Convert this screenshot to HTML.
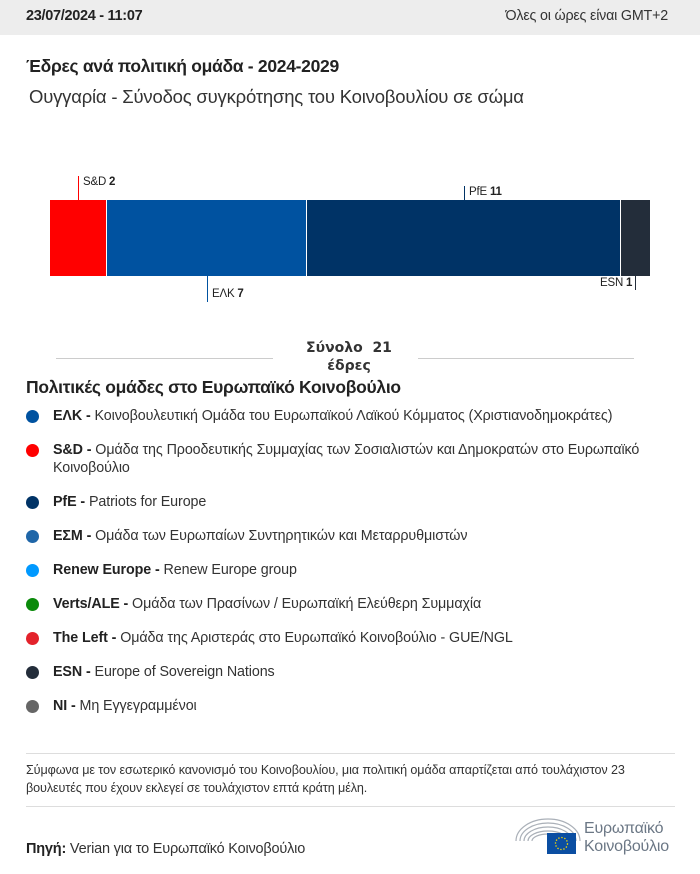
<!DOCTYPE html>
<html><head><meta charset="utf-8"><style>
body{margin:0;width:700px;height:874px;background:#fff;font-family:"Liberation Sans","DejaVu Sans",sans-serif;color:#222;position:relative;overflow:hidden}
.a{position:absolute;white-space:nowrap}
.hdr{position:absolute;left:0;top:0;width:700px;height:35px;background:#ededed}
.dot{position:absolute;left:26px;width:13px;height:13px;border-radius:50%}
.lg{position:absolute;left:53px;font-size:14.3px;letter-spacing:-0.1px;color:#333;line-height:18px}
.lg b{color:#222}
.seg{position:absolute;top:200px;height:76px}
.tk{position:absolute;width:1px}
.lb{position:absolute;font-size:11.5px;letter-spacing:-0.2px;color:#222}
.hr{position:absolute;height:1px;background:#ccc}
</style></head><body>
<div class="hdr"></div>
<div class="a" style="left:26px;top:8px;font-size:14.5px;font-weight:bold;letter-spacing:-0.3px">23/07/2024 - 11:07</div>
<div class="a" style="right:32px;top:8px;font-size:14.3px;letter-spacing:-0.2px;color:#333">Όλες οι ώρες είναι GMT+2</div>
<div class="a" style="left:26px;top:56px;font-size:17.5px;font-weight:bold;letter-spacing:-0.3px">Έδρες ανά πολιτική ομάδα - 2024-2029</div>
<div class="a" style="left:29px;top:86px;font-size:18.5px;letter-spacing:-0.2px;color:#333">Ουγγαρία - Σύνοδος συγκρότησης του Κοινοβουλίου σε σώμα</div>

<div class="seg" style="left:50px;width:56px;background:#f00"></div>
<div class="seg" style="left:107px;width:199px;background:#0052a0"></div>
<div class="seg" style="left:307px;width:313px;background:#003366"></div>
<div class="seg" style="left:621px;width:29px;background:#232d3a"></div>

<div class="tk" style="left:78px;top:176px;height:24px;background:#f00"></div>
<div class="lb" style="left:83px;top:176px">S&amp;D <b>2</b></div>
<div class="tk" style="left:464px;top:186px;height:14px;background:#003366"></div>
<div class="lb" style="left:469px;top:186px">PfE <b>11</b></div>
<div class="tk" style="left:207px;top:276px;height:26px;background:#0052a0"></div>
<div class="lb" style="left:212px;top:288px">ΕΛΚ <b>7</b></div>
<div class="tk" style="left:635px;top:276px;height:14px;background:#232d3a"></div>
<div class="lb" style="left:600px;top:277px">ESN <b>1</b></div>

<div class="hr" style="left:56px;top:358px;width:217px"></div>
<div class="hr" style="left:418px;top:358px;width:216px"></div>
<div class="a" style="left:274px;top:339px;width:150px;text-align:center;font-family:'DejaVu Sans',sans-serif;font-weight:bold;font-size:14px;line-height:18px;color:#333">Σύνολο &nbsp;21<br>έδρες</div>

<div class="a" style="left:26px;top:377px;font-size:17.5px;font-weight:bold;letter-spacing:-0.3px">Πολιτικές ομάδες στο Ευρωπαϊκό Κοινοβούλιο</div>

<div class="dot" style="top:410px;background:#0052a0"></div><div class="lg" style="top:407px"><b>ΕΛΚ -</b> Κοινοβουλευτική Ομάδα του Ευρωπαϊκού Λαϊκού Κόμματος (Χριστιανοδημοκράτες)</div>
<div class="dot" style="top:444px;background:#f00"></div><div class="lg" style="top:441px"><b>S&amp;D -</b> Ομάδα της Προοδευτικής Συμμαχίας των Σοσιαλιστών και Δημοκρατών στο Ευρωπαϊκό<br>Κοινοβούλιο</div>
<div class="dot" style="top:496px;background:#003366"></div><div class="lg" style="top:493px"><b>PfE -</b> Patriots for Europe</div>
<div class="dot" style="top:530px;background:#1f66a8"></div><div class="lg" style="top:527px"><b>ΕΣΜ -</b> Ομάδα των Ευρωπαίων Συντηρητικών και Μεταρρυθμιστών</div>
<div class="dot" style="top:564px;background:#0099ff"></div><div class="lg" style="top:561px"><b>Renew Europe -</b> Renew Europe group</div>
<div class="dot" style="top:598px;background:#0a8a0a"></div><div class="lg" style="top:595px"><b>Verts/ALE -</b> Ομάδα των Πρασίνων / Ευρωπαϊκή Ελεύθερη Συμμαχία</div>
<div class="dot" style="top:632px;background:#e3222b"></div><div class="lg" style="top:629px"><b>The Left -</b> Ομάδα της Αριστεράς στο Ευρωπαϊκό Κοινοβούλιο - GUE/NGL</div>
<div class="dot" style="top:666px;background:#232d3a"></div><div class="lg" style="top:663px"><b>ESN -</b> Europe of Sovereign Nations</div>
<div class="dot" style="top:700px;background:#666"></div><div class="lg" style="top:697px"><b>NI -</b> Μη Εγγεγραμμένοι</div>

<div class="hr" style="left:26px;top:753px;width:649px;background:#ddd"></div>
<div class="a" style="left:26px;top:761px;font-size:12.6px;line-height:18px;letter-spacing:-0.1px;color:#333">Σύμφωνα με τον εσωτερικό κανονισμό του Κοινοβουλίου, μια πολιτική ομάδα απαρτίζεται από τουλάχιστον 23<br>βουλευτές που έχουν εκλεγεί σε τουλάχιστον επτά κράτη μέλη.</div>
<div class="hr" style="left:26px;top:806px;width:649px;background:#ddd"></div>
<div class="a" style="left:26px;top:841px;font-size:14.5px;letter-spacing:-0.2px;color:#333"><b style="color:#222">Πηγή:</b> Verian για το Ευρωπαϊκό Κοινοβούλιο</div>

<svg class="a" style="left:512px;top:815px" width="80" height="40" viewBox="0 0 80 40">
<g fill="none" stroke="#aab0b8" stroke-width="1.2">
<path d="M4 26 A32 22 0 0 1 68 26"/><path d="M8 26 A28 18 0 0 1 64 26"/><path d="M12 26 A24 14 0 0 1 60 26"/><path d="M16 26 A20 10 0 0 1 56 26"/><path d="M20 26 A16 7 0 0 1 52 26"/>
</g>
<rect x="35" y="18" width="29" height="21" fill="#0b4ea2"/>
<circle cx="49.5" cy="28.5" r="6" fill="none" stroke="#ffdd00" stroke-width="1.3" stroke-dasharray="1.3 1.8"/>
</svg>
<div class="a" style="left:584px;top:820px;font-size:16px;line-height:18px;color:#6b7785;letter-spacing:-0.2px">Ευρωπαϊκό<br>Κοινοβούλιο</div>
</body></html>
